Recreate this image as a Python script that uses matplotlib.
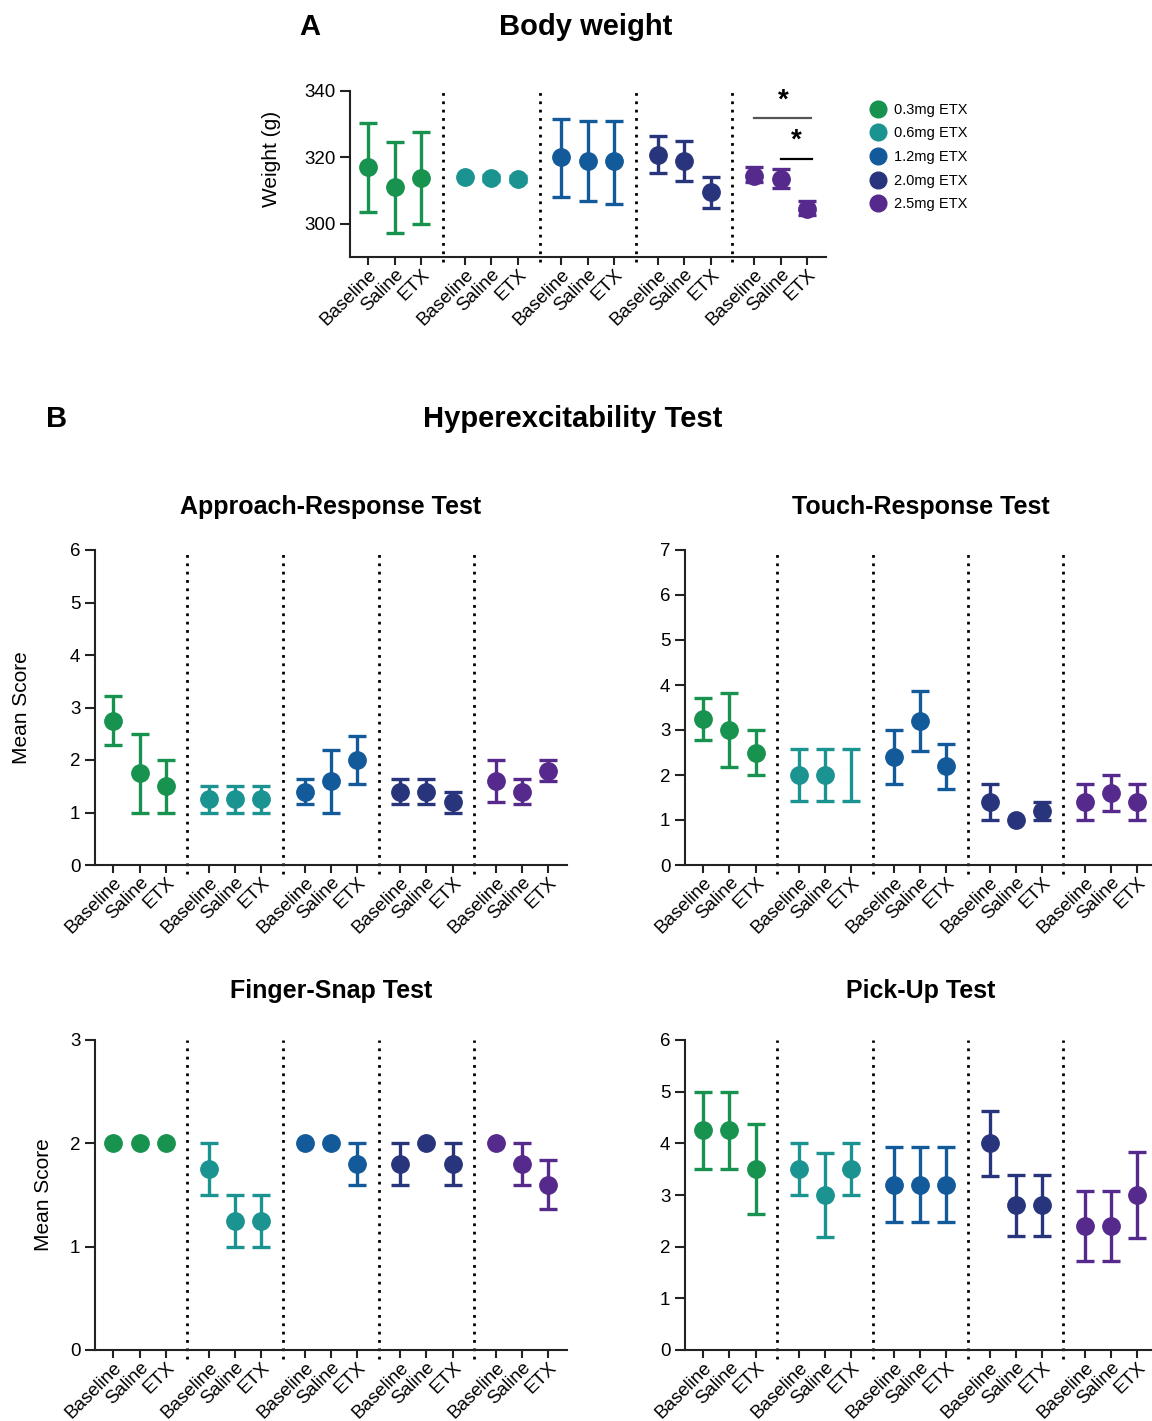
import matplotlib
matplotlib.use('Agg')
import matplotlib.pyplot as plt
from matplotlib.lines import Line2D

plt.rcParams['font.family'] = ['Liberation Sans', 'DejaVu Sans']

W, H = 1152, 1421

# 数据
doses = ['0.3mg ETX', '0.6mg ETX', '1.2mg ETX', '2.0mg ETX', '2.5mg ETX']
conditions = ['Baseline', 'Saline', 'ETX']
colors = ['#17924f', '#1b9390', '#135a9b', '#28347c', '#56298c']

# 体重 (g)
w_mean = [317.0, 311.0, 313.8, 314.0, 313.8, 313.5, 320.0, 318.8, 318.8, 320.8, 319.0, 309.5, 314.5, 313.5, 304.5]
w_lo = [303.5, 297.3, 300.0, 314.0, 313.0, 312.7, 308.2, 306.8, 306.0, 315.3, 312.9, 304.8, 312.7, 310.9, 302.5]
w_hi = [330.5, 324.5, 327.5, 314.0, 314.6, 314.3, 331.5, 331.0, 331.0, 326.3, 324.9, 314.0, 317.0, 316.5, 307.0]

# Approach-Response
a_mean = [2.75, 1.75, 1.5, 1.25, 1.25, 1.25, 1.4, 1.6, 2.0, 1.4, 1.4, 1.2, 1.6, 1.4, 1.8]
a_lo = [2.28, 1.0, 1.0, 1.0, 1.0, 1.0, 1.16, 1.0, 1.55, 1.16, 1.16, 1.0, 1.2, 1.16, 1.6]
a_hi = [3.22, 2.5, 2.0, 1.5, 1.5, 1.5, 1.64, 2.2, 2.45, 1.64, 1.64, 1.4, 2.0, 1.64, 2.0]

# Touch-Response
t_mean = [3.25, 3.0, 2.5, 2.0, 2.0, 2.0, 2.4, 3.2, 2.2, 1.4, 1.0, 1.2, 1.4, 1.6, 1.4]
t_lo = [2.78, 2.18, 2.0, 1.42, 1.42, 1.42, 1.8, 2.54, 1.7, 1.0, 1.0, 1.0, 1.0, 1.2, 1.0]
t_hi = [3.72, 3.82, 3.0, 2.58, 2.58, 2.58, 3.0, 3.86, 2.7, 1.8, 1.0, 1.4, 1.8, 2.0, 1.8]
t_no_marker = [5]  # 0.6mg ETX 点没有画圆点

# Finger-Snap
f_mean = [2, 2, 2, 1.75, 1.25, 1.25, 2, 2, 1.8, 1.8, 2, 1.8, 2, 1.8, 1.6]
f_lo = [2, 2, 2, 1.5, 1.0, 1.0, 2, 2, 1.6, 1.6, 2, 1.6, 2, 1.6, 1.36]
f_hi = [2, 2, 2, 2.0, 1.5, 1.5, 2, 2, 2.0, 2.0, 2, 2.0, 2, 2.0, 1.84]

# Pick-Up
p_mean = [4.25, 4.25, 3.5, 3.5, 3.0, 3.5, 3.2, 3.2, 3.2, 4.0, 2.8, 2.8, 2.4, 2.4, 3.0]
p_lo = [3.5, 3.5, 2.63, 3.0, 2.18, 3.0, 2.47, 2.47, 2.47, 3.37, 2.21, 2.21, 1.73, 1.73, 2.17]
p_hi = [5.0, 5.0, 4.37, 4.0, 3.82, 4.0, 3.93, 3.93, 3.93, 4.63, 3.39, 3.39, 3.07, 3.07, 3.83]

GSTEP = 3.65
xs = [g * GSTEP + i for g in range(5) for i in range(3)]
dividers = [g * GSTEP + 2 + (GSTEP - 2) / 2 for g in range(4)]


def frac(l, t, r, b):
    return [l / W, 1 - b / H, (r - l) / W, (b - t) / H]


def draw_panel(ax, mean, lo, hi, ylim, yticks, no_marker=(), ms=12.5):
    for k, x in enumerate(xs):
        c = colors[k // 3]
        if hi[k] != lo[k]:
            ax.errorbar([x], [mean[k]], yerr=[[mean[k] - lo[k]], [hi[k] - mean[k]]],
                        fmt='none', ecolor=c, elinewidth=2.4, capsize=6.5, capthick=2.4, zorder=3)
        if k not in no_marker:
            ax.plot([x], [mean[k]], 'o', color=c, ms=ms, zorder=4)
    for d in dividers:
        ax.axvline(d, ymin=-0.03, ymax=1, color='black', ls=(0, (1, 2)), lw=2, clip_on=False)
    ax.set_xlim(-0.7, xs[-1] + 0.72)
    ax.set_ylim(*ylim)
    ax.set_yticks(yticks)
    ax.set_xticks(xs)
    ax.set_xticklabels(conditions * 5, rotation=45, ha='right', rotation_mode='anchor', fontsize=11.5)
    for s in ['top', 'right']:
        ax.spines[s].set_visible(False)
    for s in ['left', 'bottom']:
        ax.spines[s].set_linewidth(1.5)
        ax.spines[s].set_color('#222222')
    ax.tick_params(direction='out', length=7, width=1.5, color='#222222', labelsize=13.5)
    ax.tick_params(axis='x', pad=0.5, length=6)


fig = plt.figure(figsize=(W / 100, H / 100), dpi=100)

# A: 体重
axA = fig.add_axes(frac(350, 91, 826, 257))
draw_panel(axA, w_mean, w_lo, w_hi, (290, 340), [300, 320, 340])
axA.set_ylabel('Weight (g)', fontsize=15)
axA.yaxis.set_label_coords(-0.145, 0.59)
# 显著性标记
axA.plot([xs[12], xs[14] + 0.15], [331.8, 331.8], color='#555555', lw=1.6)
axA.text((xs[12] + xs[14]) / 2 + 0.1, 333.2, '*', ha='center', va='bottom', fontsize=20, fontweight='bold')
axA.plot([xs[13], xs[14] + 0.2], [319.6, 319.6], color='black', lw=1.6)
axA.text((xs[13] + xs[14]) / 2 + 0.1, 321.0, '*', ha='center', va='bottom', fontsize=20, fontweight='bold')

handles = [Line2D([0], [0], marker='o', ls='none', color=c, ms=12) for c in colors]
fig.legend(handles, doses, loc='upper left', bbox_to_anchor=(860 / W, 1 - 97 / H), frameon=False,
           fontsize=10.5, handletextpad=0.35, labelspacing=0.66, borderaxespad=0, handlelength=1.6)

fig.text(310 / W, 1 - 27 / H, 'A', ha='center', va='center', fontsize=21, fontweight='bold')
fig.text(586 / W, 1 - 27 / H, 'Body weight', ha='center', va='center', fontsize=21, fontweight='bold')
fig.text(57 / W, 1 - 419 / H, 'B', ha='center', va='center', fontsize=21, fontweight='bold')
fig.text(573 / W, 1 - 419 / H, 'Hyperexcitability Test', ha='center', va='center', fontsize=21, fontweight='bold')

# B: 四个测试
axAR = fig.add_axes(frac(95, 550, 567, 865))
draw_panel(axAR, a_mean, a_lo, a_hi, (0, 6), range(0, 7))
axAR.set_ylabel('Mean Score', fontsize=15)
axAR.yaxis.set_label_coords(-0.136, 0.5)
axAR.set_title('Approach-Response Test', fontsize=18, fontweight='bold', pad=26)

axTR = fig.add_axes(frac(685, 550, 1156, 865))
draw_panel(axTR, t_mean, t_lo, t_hi, (0, 7), range(0, 8), no_marker=t_no_marker)
axTR.set_title('Touch-Response Test', fontsize=18, fontweight='bold', pad=26)

axFS = fig.add_axes(frac(95, 1040, 567, 1350))
draw_panel(axFS, f_mean, f_lo, f_hi, (0, 3), range(0, 4))
axFS.set_ylabel('Mean Score', fontsize=15)
axFS.yaxis.set_label_coords(-0.089, 0.5)
axFS.set_title('Finger-Snap Test', fontsize=18, fontweight='bold', pad=30)

axPU = fig.add_axes(frac(685, 1040, 1156, 1350))
draw_panel(axPU, p_mean, p_lo, p_hi, (0, 6), range(0, 7))
axPU.set_title('Pick-Up Test', fontsize=18, fontweight='bold', pad=30)

fig.savefig('out.png', dpi=100, facecolor='white')
